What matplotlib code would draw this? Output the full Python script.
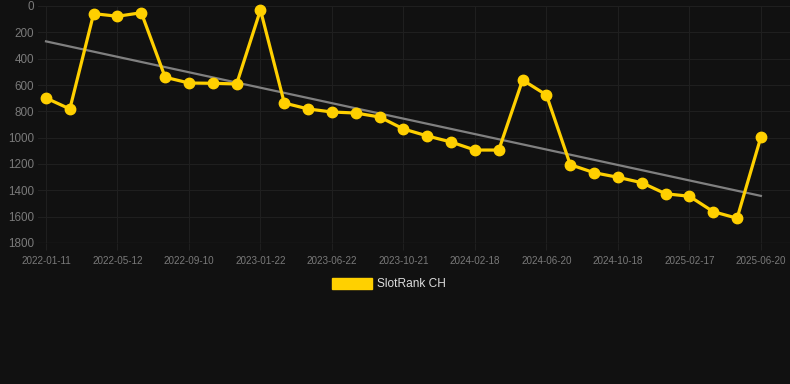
import matplotlib
matplotlib.use("Agg")
import matplotlib.pyplot as plt
import matplotlib.patches as mpatches
import numpy as np

plt.rcParams["font.family"] = ["Liberation Sans", "DejaVu Sans"]

# ---- data ----
tick_labels = ["2022-01-11", "2022-05-12", "2022-09-10", "2023-01-22", "2023-06-22",
               "2023-10-21", "2024-02-18", "2024-06-20", "2024-10-18", "2025-02-17",
               "2025-06-20"]
ranks = [699, 782, 58, 78, 51, 541, 585, 587, 592, 30, 737, 782, 805, 813, 843,
         934, 987, 1033, 1094, 1094, 562, 676, 1205, 1266, 1301, 1342, 1426, 1445,
         1562, 1612, 995]
series_name = "SlotRank CH"
y_ticks = [0, 200, 400, 600, 800, 1000, 1200, 1400, 1600, 1800]

BG = "#111111"
GOLD = "#FFD000"
GRID = "#1f1f1f"
TXT = "#7a7a7a"

fig = plt.figure(figsize=(7.9, 3.84), dpi=100, facecolor=BG)
ax = fig.add_axes([38/790, 1-243/384, 1-38/790, (243-6)/384])
ax.set_facecolor(BG)

x = np.arange(len(ranks))
# trend line (linear fit)
coef = np.polyfit(x, ranks, 1)
ax.plot([x[0], x[-1]], np.polyval(coef, [x[0], x[-1]]), color="#808080", lw=1.6, zorder=2)

ax.plot(x, ranks, color=GOLD, lw=2.3, marker="o", markersize=7.5, zorder=3,
        clip_on=False)

ax.set_ylim(1800, 0)
ax.set_xlim(-8/23.83, (790-46)/23.83)
ax.set_yticks(y_ticks)
ax.set_yticklabels([str(v) for v in y_ticks])
ax.set_xticks(x[::3])
ax.set_xticklabels(tick_labels)

ax.grid(True, color=GRID, lw=0.8)
for s in ax.spines.values():
    s.set_visible(False)
ax.axhline(1800, color="#2c2c2c", lw=0.9, zorder=1)
ax.tick_params(axis="x", colors=GRID, labelcolor=TXT, labelsize=7.1, length=5, width=0.8, pad=4)
ax.tick_params(axis="y", length=0, labelcolor=TXT, labelsize=8.4, pad=3)

handle = mpatches.Patch(color=GOLD, label=series_name)
leg = fig.legend(handles=[handle], loc="center", bbox_to_anchor=(389/790, 1-284/384),
                 frameon=False, fontsize=8.6, handlelength=3.3, handleheight=1.1,
                 labelcolor="#dddddd", handletextpad=0.45)

fig.savefig("out.png", dpi=100, facecolor=BG)
